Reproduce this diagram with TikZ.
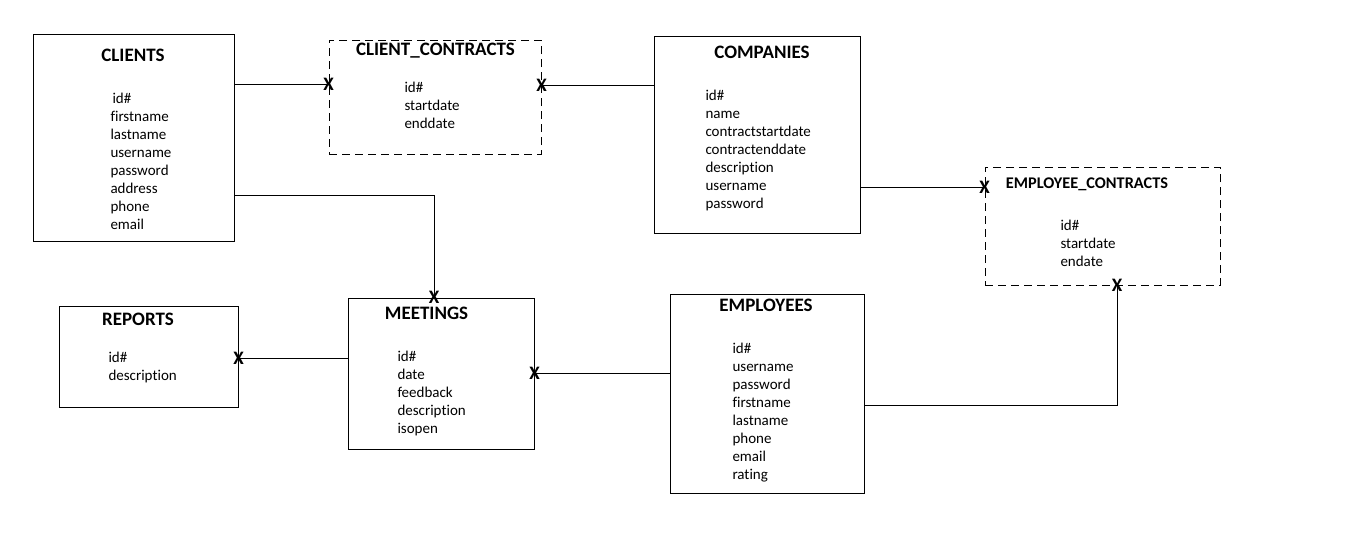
\documentclass[tikz,border=0pt]{standalone}
\usepackage{fontspec}
\setmainfont{Carlito}[Ligatures=NoCommon]
\usepackage{tikz}
\usetikzlibrary{positioning,calc}

\begin{document}
\begin{tikzpicture}[x=1pt, y=-1pt, line width=1pt,
    entity/.style={draw, rectangle, inner sep=0},
    weak/.style={entity, dash pattern=on 8pt off 5pt},
    title/.style={anchor=base, inner sep=0, font=\fontsize{19}{22}\selectfont\bfseries},
    attr/.style={anchor=base west, inner sep=0, font=\fontsize{15}{18}\selectfont},
    xmark/.style={inner sep=0, font=\fontsize{19}{19}\selectfont\bfseries}]
    \useasboundingbox (0,0) rectangle (1359,542);

    % CLIENTS
    \node[entity, minimum width=201, minimum height=207] (clients) at (133.5,137.5) {};
    \node[title] (clients-t) at (133,61.5) {CLIENTS};
    \foreach \a [count=\i] in {\hspace{2pt}id\#,firstname,lastname,username,password,address,phone,email}
        \node[attr] (clients-\i) at (110,{85+18*\i}) {\a};

    % CLIENT_CONTRACTS
    \node[weak, minimum width=212, minimum height=114] (clientcontracts) at (435,97) {};
    \node[title] (clientcontracts-t) at (435.5,55.5) {CLIENT\_CONTRACTS};
    \foreach \a [count=\i] in {id\#,startdate,enddate}
        \node[attr] (clientcontracts-\i) at (404,{74+18*\i}) {\a};

    % COMPANIES
    \node[entity, minimum width=206, minimum height=197] (companies) at (757,134.5) {};
    \node[title] (companies-t) at (762,58.5) {COMPANIES};
    \foreach \a [count=\i] in {id\#,name,contractstartdate,contractenddate,description,username,password}
        \node[attr] (companies-\i) at (705,{82+18*\i}) {\a};

    % EMPLOYEE_CONTRACTS
    \node[weak, minimum width=235, minimum height=118] (empcontracts) at (1102.5,226) {};
    \node[title, font=\fontsize{16.3}{19}\selectfont\bfseries] (empcontracts-t) at (1087,188) {EMPLOYEE\_CONTRACTS};
    \foreach \a [count=\i] in {id\#,startdate,endate}
        \node[attr] (empcontracts-\i) at (1060,{212+18*\i}) {\a};

    % REPORTS
    \node[entity, minimum width=179, minimum height=101] (reports) at (148.5,356.5) {};
    \node[title] (reports-t) at (138,325.5) {REPORTS};
    \foreach \a [count=\i] in {id\#,description}
        \node[attr] (reports-\i) at (108,{344+18*\i}) {\a};

    % MEETINGS
    \node[entity, minimum width=186, minimum height=151] (meetings) at (441,373.5) {};
    \node[title] (meetings-t) at (426.5,319.5) {MEETINGS};
    \foreach \a [count=\i] in {id\#,date,feedback,description,isopen}
        \node[attr] (meetings-\i) at (397,{343+18*\i}) {\a};

    % EMPLOYEES
    \node[entity, minimum width=194, minimum height=199] (employees) at (767,393.5) {};
    \node[title] (employees-t) at (766,311.5) {EMPLOYEES};
    \foreach \a [count=\i] in {id\#,username,password,firstname,lastname,phone,email,rating}
        \node[attr] (employees-\i) at (732,{335+18*\i}) {\a};

    % Relations
    \draw (clients.east |- 0,84) -- (clientcontracts.west |- 0,84) node[xmark] (x1) {X};
    \draw (companies.west |- 0,85) -- (clientcontracts.east |- 0,85) node[xmark] (x2) {X};
    \draw (companies.east |- 0,187) -- (empcontracts.west |- 0,187) node[xmark] (x3) {X};
    \draw (clients.east |- 0,195) -| (meetings.north -| 434,0) node[xmark] (x4) {X};
    \draw (meetings.west |- 0,358) -- (reports.east |- 0,358) node[xmark] (x5) {X};
    \draw (employees.west |- 0,373) -- (meetings.east |- 0,373) node[xmark] (x6) {X};
    \draw (employees.east |- 0,405) -| (empcontracts.south -| 1117,0) node[xmark] (x7) {X};

\end{tikzpicture}
\end{document}
